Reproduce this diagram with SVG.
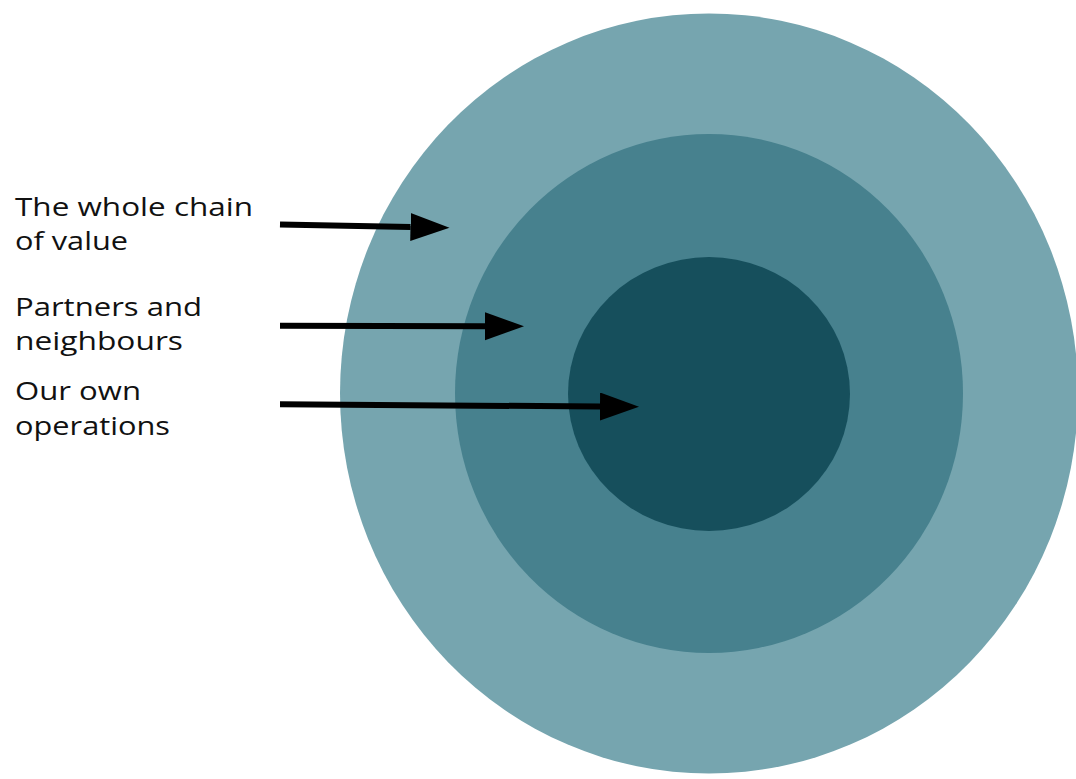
<svg xmlns="http://www.w3.org/2000/svg" width="1076" height="779" viewBox="0 0 1076 779">
  <style>
    .lbl { font-family: "Open Sans", "Liberation Sans", sans-serif; font-size: 26px; fill: #111111; }
    .conn { stroke: #000000; stroke-width: 6; fill: none; }
  </style>
  <defs>
    <marker id="arrow" markerUnits="userSpaceOnUse" markerWidth="40" markerHeight="30" refX="0" refY="14" orient="auto">
      <path d="M0,0 L39,14 L0,28 Z" fill="#000000"/>
    </marker>
  </defs>
  <rect width="1076" height="779" fill="#ffffff"/>
  <g id="outer-ring">
    <ellipse cx="709" cy="393.5" rx="369" ry="380" fill="#76A5AF"/>
  </g>
  <g id="middle-ring">
    <ellipse cx="709" cy="393.5" rx="254" ry="259.5" fill="#47818E"/>
  </g>
  <g id="inner-circle">
    <ellipse cx="709" cy="394" rx="141" ry="137" fill="#164F5C"/>
  </g>
  <g id="label-whole-chain">
    <text class="lbl" x="15" y="216" textLength="238" lengthAdjust="spacingAndGlyphs">The whole chain</text>
    <text class="lbl" x="15" y="250" textLength="113" lengthAdjust="spacingAndGlyphs">of value</text>
  </g>
  <g id="label-partners">
    <text class="lbl" x="15" y="316" textLength="187" lengthAdjust="spacingAndGlyphs">Partners and</text>
    <text class="lbl" x="15" y="350" textLength="168" lengthAdjust="spacingAndGlyphs">neighbours</text>
  </g>
  <g id="label-own">
    <text class="lbl" x="15" y="400" textLength="126" lengthAdjust="spacingAndGlyphs">Our own</text>
    <text class="lbl" x="15" y="435" textLength="155" lengthAdjust="spacingAndGlyphs">operations</text>
  </g>
  <g id="connectors">
    <line class="conn" x1="280" y1="224.5" x2="410.5" y2="227" marker-end="url(#arrow)"/>
    <line class="conn" x1="280" y1="325.7" x2="485" y2="326.2" marker-end="url(#arrow)"/>
    <line class="conn" x1="280" y1="404.3" x2="600" y2="406.5" marker-end="url(#arrow)"/>
  </g>
</svg>
